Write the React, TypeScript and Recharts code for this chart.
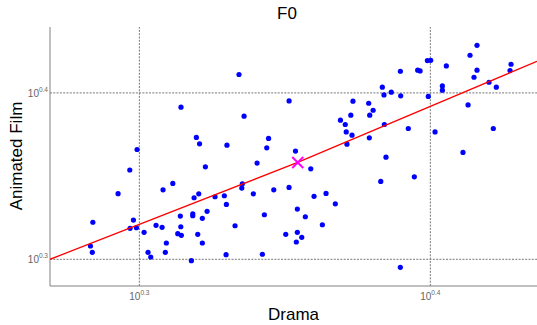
import { ScatterChart, Scatter, XAxis, YAxis, ReferenceLine } from "recharts";

const font = '"Liberation Sans", Arial, sans-serif';

// Drama (x) and Animated Film (y)
const drama = [
  1390, 1570, 1610, 982, 2200, 3270, 2290, 2000, 2780, 2740, 3440, 4910, 5100,
  5330, 5420, 5140, 5380, 5170, 6140, 6360, 6190, 6170, 6840, 6930, 7340, 7890,
  7910, 6950, 8400, 7040, 9050, 9220, 9770, 10030, 9840, 11350, 11000, 11000,
  10380, 12950, 13480, 13690, 14470, 14470, 14130, 15910, 16860, 16460, 18940,
  18790, 927, 845, 692, 954, 929, 977, 679, 689, 1038, 1071, 1094, 1141, 1197,
  1206, 1303, 1238, 1228, 1383, 1388, 1355, 1394, 1509, 1526, 1526, 1542, 1600,
  1686, 1709, 1646, 1587, 1646, 2538, 2259, 2249, 1820, 1959, 1991, 2465, 2897,
  3269, 3882, 3984, 4381, 4715, 3491, 3719, 4255, 2689, 2132, 3185, 3491, 3615,
  3463, 1986, 2647, 6755, 8811, 7887,
];
const animated = [
  8210, 5400, 4940, 4570, 12900, 8950, 7250, 4850, 5330, 4680, 4470, 6860, 6460,
  7350, 8920, 5830, 5570, 4920, 8670, 7870, 7350, 5370, 10820, 9730, 10100,
  13500, 9600, 6460, 6110, 4110, 13690, 13560, 15650, 15710, 9520, 14520, 11020,
  10380, 5830, 4390, 8470, 16840, 19330, 13690, 12420, 11590, 10820, 6110, 14870,
  13630, 3440, 2480, 1670, 1720, 1535, 1548, 1202, 1102, 1452, 1102, 1032, 1600,
  1556, 2617, 2859, 1253, 1102, 1819, 1569, 1425, 1393, 981, 1878, 1827, 2343,
  2476, 3596, 1941, 1762, 1413, 1253, 3785, 2843, 2679, 2376, 2409, 2138, 2476,
  2617, 2705, 3498, 2389, 2490, 2156, 2004, 1802, 1613, 1852, 1591, 1413, 1452,
  1355, 1270, 1066, 1072, 2939, 3132, 895,
];

// fitted trend line (read at the plot edges and at the mean)
const fitX = [493, 3500, 23260];
const fitY = [1000, 3820, 15490];

// mean marker
const meanX = 3502;
const meanY = 3821;

const tickValues = [1000, 10000];
const tickExps = ["0.3", "0.4"];

const points = drama.map((x, i) => ({ x, y: animated[i] }));
const fit = fitX.map((x, i) => ({ x, y: fitY[i] }));

const expFor = (v: number) => tickExps[tickValues.indexOf(v)] ?? "";

const XTick = (props: any) => {
  const { x, y, payload } = props;
  return (
    <text x={x} y={y + 12} textAnchor="middle" fill="#666" fontSize={10} fontFamily={font}>
      10
      <tspan dy={-5} fontSize={6.5}>
        {expFor(payload.value)}
      </tspan>
    </text>
  );
};

const YTick = (props: any) => {
  const { x, y, payload } = props;
  return (
    <text x={x} y={y + 4} textAnchor="end" fill="#666" fontSize={10} fontFamily={font}>
      10
      <tspan dy={-5} fontSize={6.5}>
        {expFor(payload.value)}
      </tspan>
    </text>
  );
};

const Dot = (props: any) => <circle cx={props.cx} cy={props.cy} r={2.6} fill="#0000ff" />;

const Cross = (props: any) => {
  const { cx, cy } = props;
  const s = 5.5;
  return (
    <g stroke="#ff00ff" strokeWidth={2}>
      <line x1={cx - s} y1={cy - s} x2={cx + s} y2={cy + s} />
      <line x1={cx - s} y1={cy + s} x2={cx + s} y2={cy - s} />
    </g>
  );
};

const grid = { stroke: "#777", strokeDasharray: "2 1.3" };

export default function App() {
  return (
    <div
      style={{
        position: "absolute",
        left: 0,
        top: 0,
        width: 537,
        height: 325,
        background: "#fff",
        fontFamily: font,
      }}
    >
      <div
        style={{
          position: "absolute",
          left: 287,
          top: 5,
          transform: "translateX(-50%)",
          fontSize: 17,
          lineHeight: "17px",
          color: "#000",
        }}
      >
        F0
      </div>
      <ScatterChart width={537} height={325} margin={{ top: 27, right: 0, bottom: 0, left: 0 }}>
        <XAxis
          type="number"
          dataKey="x"
          scale="log"
          domain={[493, 23260]}
          ticks={tickValues}
          allowDataOverflow
          height={39}
          tickSize={0}
          tickMargin={2}
          tickLine={false}
          axisLine={{ stroke: "#808080" }}
          tick={<XTick />}
          label={{
            value: "Drama",
            content: () => (
              <text x={293.5} y={320} textAnchor="middle" fontSize={17} fontFamily={font} fill="#000">
                Drama
              </text>
            ),
          }}
        />
        <YAxis
          type="number"
          dataKey="y"
          scale="log"
          domain={[691, 24900]}
          ticks={tickValues}
          allowDataOverflow
          width={50}
          tickSize={0}
          tickMargin={2}
          tickLine={false}
          axisLine={{ stroke: "#808080" }}
          tick={<YTick />}
          label={{
            value: "Animated Film",
            content: () => (
              <text
                x={22}
                y={156}
                transform="rotate(-90 22 156)"
                textAnchor="middle"
                fontSize={17}
                fontFamily={font}
                fill="#000"
              >
                Animated Film
              </text>
            ),
          }}
        />
        {tickValues.map((v) => (
          <ReferenceLine key={`x${v}`} x={v} {...grid} />
        ))}
        {tickValues.map((v) => (
          <ReferenceLine key={`y${v}`} y={v} {...grid} />
        ))}
        <Scatter data={points} shape={<Dot />} isAnimationActive={false} />
        <Scatter
          data={fit}
          line={{ stroke: "#ff0000", strokeWidth: 1.3 }}
          shape={() => <g />}
          isAnimationActive={false}
        />
        <Scatter data={[{ x: meanX, y: meanY }]} shape={<Cross />} isAnimationActive={false} />
      </ScatterChart>
    </div>
  );
}
